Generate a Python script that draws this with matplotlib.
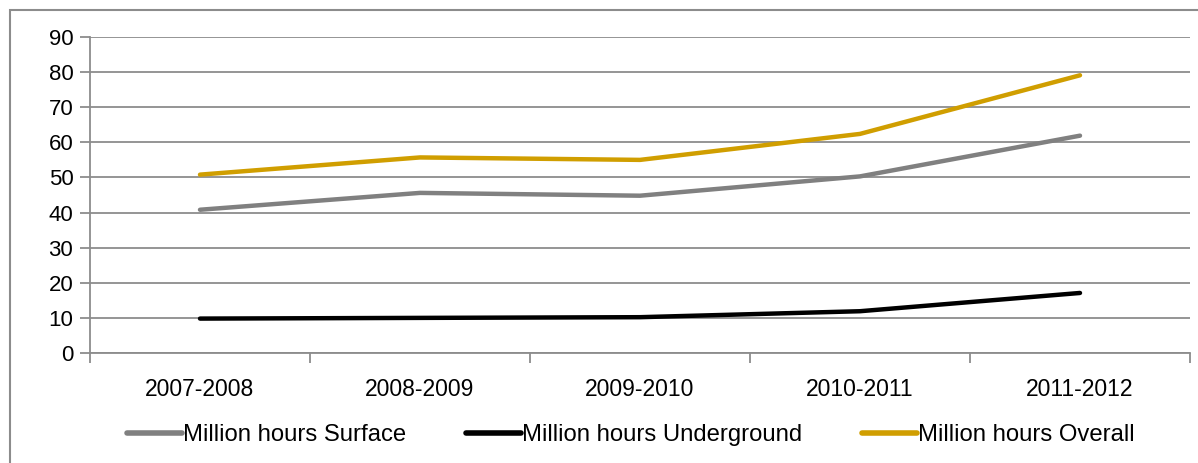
import matplotlib
matplotlib.use('Agg')
import matplotlib.pyplot as plt
from matplotlib.patches import Rectangle

plt.rcParams['font.family'] = ['Liberation Sans', 'DejaVu Sans']

# data
years = ['2007-2008', '2008-2009', '2009-2010', '2010-2011', '2011-2012']
surface = [40.8, 45.6, 44.8, 50.3, 61.9]
underground = [9.8, 10.0, 10.2, 11.9, 17.1]
overall = [50.8, 55.7, 55.0, 62.4, 79.1]

grid_col = '#8c8c8c'

fig = plt.figure(figsize=(11.98, 4.63), dpi=100)
ax = fig.add_axes([90 / 1198, 1 - 353 / 463, 1100 / 1198, 316 / 463])

x = list(range(len(years)))
ax.plot(x, surface, color='#808080', lw=3.2, solid_capstyle='round', label='Million hours Surface', zorder=3)
ax.plot(x, underground, color='black', lw=3.2, solid_capstyle='round', label='Million hours Underground', zorder=3)
ax.plot(x, overall, color='#D09E00', lw=3.2, solid_capstyle='round', label='Million hours Overall', zorder=3)

ax.set_xlim(-0.5, 4.5)
ax.set_ylim(0, 90)
ax.set_yticks(range(0, 91, 10))
ax.yaxis.grid(True, color=grid_col, lw=1.3)
ax.set_axisbelow(True)

ax.set_xticks(x)
ax.set_xticklabels(years)
ax.set_xticks([i - 0.5 for i in range(len(years) + 1)], minor=True)
ax.tick_params(axis='x', which='major', length=0, pad=18, labelsize=16.5)
ax.tick_params(axis='x', which='minor', length=7, color=grid_col, width=1.3)
ax.tick_params(axis='y', length=7, color=grid_col, width=1.3, pad=5, labelsize=16)

for side in ['top', 'right']:
    ax.spines[side].set_visible(False)
for side in ['left', 'bottom']:
    ax.spines[side].set_color(grid_col)
    ax.spines[side].set_linewidth(1.3)

leg = fig.legend(loc='center', bbox_to_anchor=(631 / 1198, 1 - 435 / 463), ncol=3, frameon=False,
                 fontsize=17.2, handlelength=2.3, handletextpad=0.05, columnspacing=2.5)
for line in leg.get_lines():
    line.set_linewidth(4)

# outer chart border
fig.patches.append(Rectangle((10 / 1198, -0.5), 1.5, 1.5 - 10 / 463, transform=fig.transFigure,
                             fill=False, edgecolor='#8c8c8c', lw=1.5))

fig.savefig('out.png', dpi=100)
